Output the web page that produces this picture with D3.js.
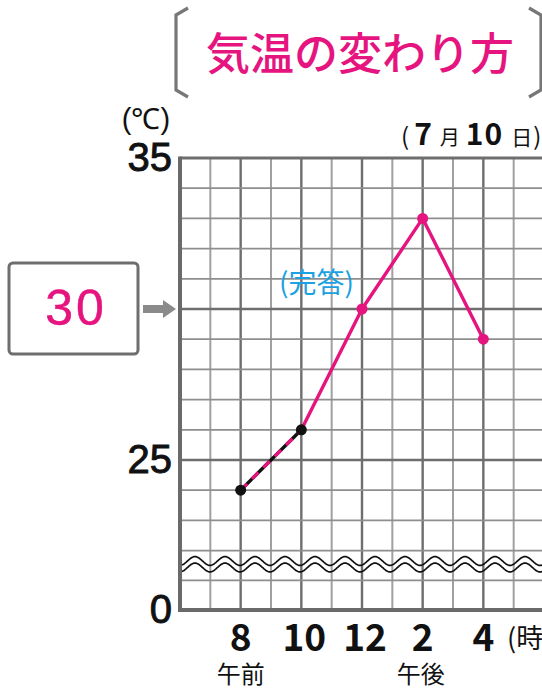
<!DOCTYPE html>
<html>
<head>
<meta charset="utf-8">
<script src="https://cdn.jsdelivr.net/npm/d3@7"></script>
<style>
  body { margin: 0; background: #fff; }
  svg { display: block; }
</style>
</head>
<body>
<div id="vis"></div>
<script>
// chart values
const hours = [8, 10, 12, 14, 16];
const hourLabels = ["8", "10", "12", "2", "4"];
const temps = [24, 26, 30, 33, 29];
const answerValue = "30";
const yTickValues = [0, 25, 35];

const width = 542, height = 690;
const pink = "#e5147f";

const svg = d3.select("#vis").append("svg")
  .attr("width", width)
  .attr("height", height);

// scales (y axis is broken between 0 and 22)
const x = d3.scaleLinear().domain([6, 18]).range([180, 544]);
const y = d3.scaleLinear().domain([0, 22, 35]).range([610, 550.6, 158]);

// grid
const gridCols = d3.range(7, 18);
const gridRows = [11].concat(d3.range(22, 35));

svg.append("g").selectAll("line")
  .data(gridCols)
  .join("line")
  .attr("x1", d => x(d)).attr("x2", d => x(d))
  .attr("y1", y(35)).attr("y2", y(0))
  .attr("stroke", d => d % 2 === 0 ? "#6e6e6e" : "#a0a0a0")
  .attr("stroke-width", d => d % 2 === 0 ? 2.4 : 2);

svg.append("g").selectAll("line")
  .data(gridRows)
  .join("line")
  .attr("x1", x(6)).attr("x2", width)
  .attr("y1", d => y(d)).attr("y2", d => y(d))
  .attr("stroke", d => d % 5 === 0 ? "#6e6e6e" : "#8e8e8e")
  .attr("stroke-width", d => d % 5 === 0 ? 2.4 : 1.8);

// frame
svg.append("line")
  .attr("x1", x(6)).attr("x2", width)
  .attr("y1", y(35)).attr("y2", y(35))
  .attr("stroke", "#6e6e6e").attr("stroke-width", 3);
svg.append("line")
  .attr("x1", x(6) - 2).attr("x2", width)
  .attr("y1", y(0)).attr("y2", y(0))
  .attr("stroke", "#6a6a6a").attr("stroke-width", 4);
svg.append("line")
  .attr("x1", x(6)).attr("x2", x(6))
  .attr("y1", y(35) - 1.5).attr("y2", y(0) + 2)
  .attr("stroke", "#6a6a6a").attr("stroke-width", 4);

// wavy break marks
const waveX = d3.range(x(6) + 2, width + 1, 1);
const wave = d3.line()
  .x(d => d)
  .y(d => Math.sin((d - x(6)) / 30 * 2 * Math.PI + Math.PI / 2) * 4.4);
[561, 567.5].forEach(cy => {
  svg.append("path")
    .attr("transform", `translate(0,${cy})`)
    .attr("d", wave(waveX))
    .attr("fill", "none")
    .attr("stroke", "#111")
    .attr("stroke-width", 1.7);
});

// y tick labels
svg.append("g").selectAll("text")
  .data(yTickValues)
  .join("text")
  .attr("x", 172)
  .attr("y", d => y(d) + 13)
  .attr("text-anchor", "end")
  .attr("font-family", "Liberation Sans, Arial, sans-serif")
  .attr("font-size", 40)
  .attr("fill", "#111")
  .attr("stroke", "#111")
  .attr("stroke-width", 0.9)
  .text(d => d);

svg.append("text")
  .attr("x", 146).attr("y", 129)
  .attr("text-anchor", "middle")
  .attr("font-family", "Liberation Sans, Arial, sans-serif")
  .attr("font-size", 29)
  .attr("fill", "#111")
  .text("(℃)");

// x tick labels
svg.append("g").selectAll("text")
  .data(hours)
  .join("text")
  .attr("x", (d, i) => x(d) + (i === 1 || i === 2 ? 3 : 0))
  .attr("y", 651)
  .attr("text-anchor", "middle")
  .attr("font-family", "Noto Sans CJK JP, sans-serif")
  .attr("font-weight", 700)
  .attr("font-size", 37)
  .attr("fill", "#111")
  .text((d, i) => hourLabels[i]);

svg.append("text")
  .attr("x", 507).attr("y", 648)
  .attr("font-family", "Noto Sans CJK JP, sans-serif")
  .attr("font-size", 27)
  .attr("fill", "#111")
  .text("(時)");

svg.append("text")
  .attr("x", x(8)).attr("y", 683)
  .attr("text-anchor", "middle")
  .attr("font-family", "Noto Sans CJK JP, sans-serif")
  .attr("font-size", 24)
  .attr("fill", "#111")
  .text("午前");
svg.append("text")
  .attr("x", x(14) - 2).attr("y", 683)
  .attr("text-anchor", "middle")
  .attr("font-family", "Noto Sans CJK JP, sans-serif")
  .attr("font-size", 24)
  .attr("fill", "#111")
  .text("午後");

// date
const dateText = svg.append("text")
  .attr("x", 401).attr("y", 145)
  .attr("font-family", "Noto Sans CJK JP, sans-serif")
  .attr("fill", "#111");
dateText.append("tspan").attr("font-size", 24).text("(");
dateText.append("tspan").attr("font-size", 30).attr("font-weight", 700).attr("dx", 5).text("7");
dateText.append("tspan").attr("font-size", 20).attr("dx", 8).text("月");
dateText.append("tspan").attr("font-size", 30).attr("font-weight", 700).attr("dx", 6).attr("letter-spacing", 1).text("10");
dateText.append("tspan").attr("font-size", 21).attr("dx", 8).text("日");
dateText.append("tspan").attr("font-size", 24).attr("dx", 1).text(")");

// title with brackets
svg.append("path")
  .attr("d", "M188,8 L176,15 L176,90 L188,97")
  .attr("fill", "none").attr("stroke", "#777").attr("stroke-width", 3.2);
svg.append("path")
  .attr("d", "M529,8 L541,15 L541,90 L529,97")
  .attr("fill", "none").attr("stroke", "#777").attr("stroke-width", 3.2);
svg.append("text")
  .attr("x", 360).attr("y", 70)
  .attr("text-anchor", "middle")
  .attr("font-family", "Noto Sans CJK JP, sans-serif")
  .attr("font-weight", 500)
  .attr("font-size", 44)
  .attr("fill", pink)
  .text("気温の変わり方");

// answer box
svg.append("rect")
  .attr("x", 9).attr("y", 263)
  .attr("width", 129).attr("height", 91)
  .attr("rx", 4)
  .attr("fill", "#fff").attr("stroke", "#6e6e6e").attr("stroke-width", 3);
svg.append("text")
  .attr("x", 76).attr("y", 325)
  .attr("text-anchor", "middle")
  .attr("font-family", "Liberation Sans, Arial, sans-serif")
  .attr("font-size", 50)
  .attr("letter-spacing", 3)
  .attr("fill", pink)
  .attr("stroke", pink)
  .attr("stroke-width", 0.5)
  .text(answerValue);
svg.append("path")
  .attr("d", `M143,${y(30) - 4} L163,${y(30) - 4} L163,${y(30) - 9} L176,${y(30)} L163,${y(30) + 9} L163,${y(30) + 4} L143,${y(30) + 4} Z`)
  .attr("fill", "#8a8a8a");

svg.append("text")
  .attr("x", 279).attr("y", 293)
  .attr("font-family", "Noto Sans CJK JP, sans-serif")
  .attr("font-size", 28)
  .attr("fill", "#1ba1e2")
  .text("(完答)");

// data line
const pts = hours.map((h, i) => ({ h, t: temps[i] }));
const line = d3.line().x(d => x(d.h)).y(d => y(d.t));

svg.append("path")
  .datum(pts.slice(0, 2))
  .attr("d", line)
  .attr("fill", "none").attr("stroke", "#111").attr("stroke-width", 3.4);
svg.append("path")
  .datum(pts.slice(0, 2))
  .attr("d", line)
  .attr("fill", "none").attr("stroke", pink).attr("stroke-width", 3.4)
  .attr("stroke-dasharray", "9,7");
svg.append("path")
  .datum(pts.slice(1))
  .attr("d", line)
  .attr("fill", "none").attr("stroke", pink).attr("stroke-width", 3.4)
  .attr("stroke-linejoin", "round");

svg.append("g").selectAll("circle")
  .data(pts)
  .join("circle")
  .attr("cx", d => x(d.h))
  .attr("cy", d => y(d.t))
  .attr("r", 5.5)
  .attr("fill", (d, i) => i < 2 ? "#111" : pink);
</script>
</body>
</html>
